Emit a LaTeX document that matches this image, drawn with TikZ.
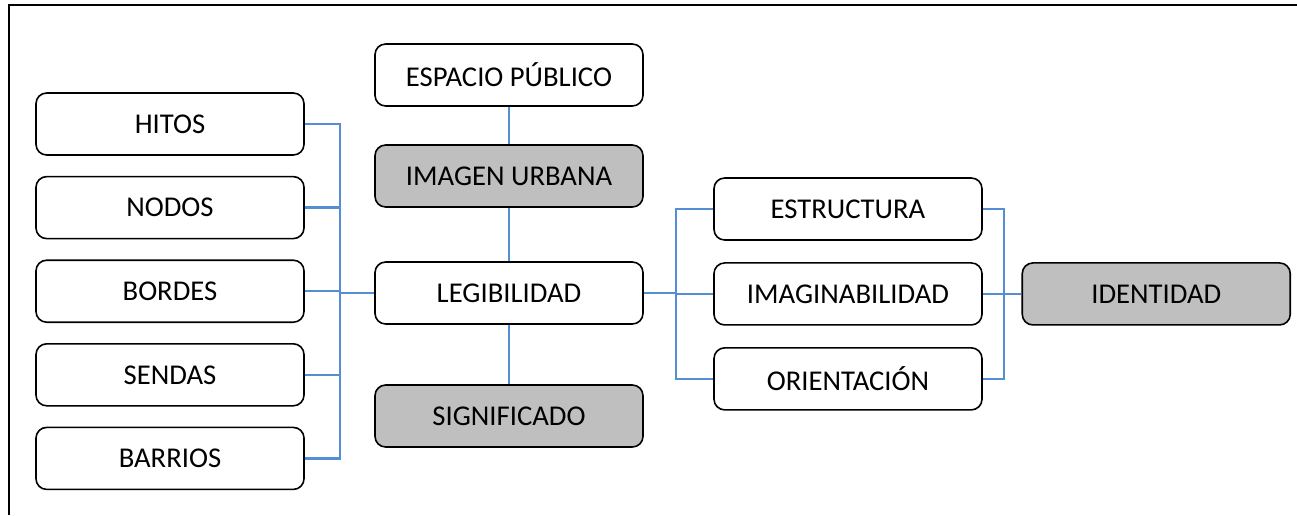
\documentclass[tikz,border=0pt]{standalone}
\usepackage{fontspec}
\setmainfont{Carlito}
\usepackage{xcolor}
\usetikzlibrary{positioning}

\definecolor{linkblue}{RGB}{85,142,213}
\definecolor{boxgray}{RGB}{191,191,191}

\begin{document}
\begin{tikzpicture}[x=0.75pt,y=-0.75pt,
                    box/.style={draw,line width=1.2pt,rounded corners=8pt,
                                minimum width=201pt,minimum height=46.5pt,
                                font=\fontsize{21.5}{26}\selectfont},
                    keybox/.style={box,fill=boxgray},
                    link/.style={linkblue,line width=1.8pt}]
  \useasboundingbox (0,0) rectangle (1297,515);
  \draw[line width=1.4pt] (1297,5) -- (9,5) -- (9,515);

  % left column
  \node[box] (hitos) at (170,124) {HITOS};
  \node[box,below=15pt of hitos] (nodos) {NODOS};
  \node[box,below=15pt of nodos] (bordes) {BORDES};
  \node[box,below=15pt of bordes] (sendas) {SENDAS};
  \node[box,below=15pt of sendas] (barrios) {BARRIOS};

  % middle column
  \node[box] (espacio) at (509,75) {ESPACIO PÚBLICO};
  \node[keybox] (imagen) at (509,176) {IMAGEN URBANA};
  \node[box] (legib) at (509,293) {LEGIBILIDAD};
  \node[keybox] (signif) at (509,416) {SIGNIFICADO};

  % right column
  \node[box] (estruct) at (848,209) {ESTRUCTURA};
  \node[box,below=16pt of estruct] (imagin) {IMAGINABILIDAD};
  \node[box,below=16pt of imagin] (orient) {ORIENTACIÓN};
  \node[keybox,right=29pt of imagin] (ident) {IDENTIDAD};

  \coordinate (lbus) at (340,293);
  \coordinate (rbus) at (676,293);
  \coordinate (ibus) at (1004,296);

  \draw[link] (hitos.east) -| (lbus) |- (barrios.east);
  \draw[link] (nodos.east) -- (nodos.east -| lbus);
  \draw[link] (bordes.east) -- (bordes.east -| lbus);
  \draw[link] (sendas.east) -- (sendas.east -| lbus);
  \draw[link] (legib.west) -- (legib.west -| lbus);

  \draw[link] (espacio) -- (imagen);
  \draw[link] (imagen) -- (legib);
  \draw[link] (legib) -- (signif);

  \draw[link] (estruct.west) -| (rbus) |- (orient.west);
  \draw[link] (legib.east) -- (legib.east -| rbus) |- (imagin.west);

  \draw[link] (estruct.east) -| (ibus) |- (orient.east);
  \draw[link] (imagin.east) -- (ident.west);
\end{tikzpicture}
\end{document}
